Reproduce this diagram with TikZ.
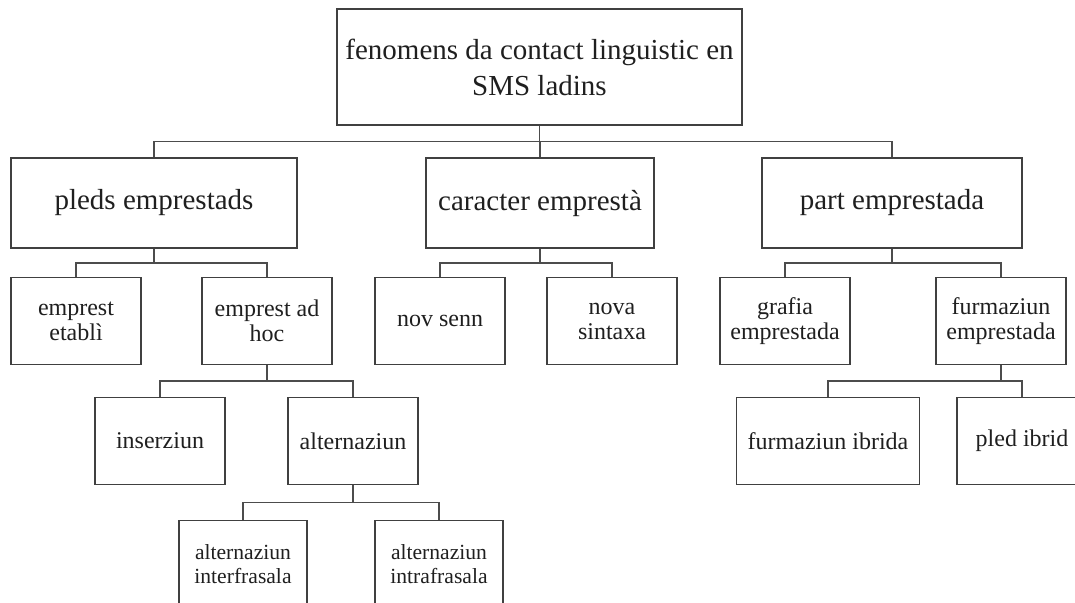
\documentclass[tikz,border=0pt]{standalone}
\usepackage{fontspec}
\setmainfont{Liberation Serif}
\usetikzlibrary{positioning,calc}

\begin{document}
\begin{tikzpicture}[x=0.5pt,y=-0.5pt,
  box/.style={draw=black!75,line width=0.95pt,align=center,inner sep=0pt,text=black!88},
  bigbox/.style={box,minimum height=45pt,font=\fontsize{14.5}{18}\selectfont},
  midbox/.style={box,minimum width=65pt,minimum height=43.5pt,font=\fontsize{12}{12.5}\selectfont},
  lowbox/.style={box,minimum width=64pt,minimum height=43.5pt,font=\fontsize{10.8}{11.8}\selectfont},
  link/.style={draw=black!70,line width=0.85pt}]
  \path[use as bounding box,clip] (0,0) rectangle (1075,602);

  % radisch
  \node[bigbox,minimum width=202.5pt,minimum height=58pt] (root) at (539.5,67)
    {fenomens da contact linguistic en\\SMS ladins};

  % prim livel
  \node[bigbox,minimum width=143pt] (pleds) at (154,203) {pleds emprestads};
  \node[bigbox,minimum width=114pt] (caracter) at (540,203) {caracter emprestà};
  \node[bigbox,minimum width=130pt] (part) at (892,203) {part emprestada};

  % segond livel
  \node[midbox] (etabli) at (76,321) {emprest\\etablì};
  \node[midbox] (adhoc) at (267,321) {emprest ad\\hoc};
  \node[midbox] (novsenn) at (440,321) {nov senn};
  \node[midbox] (sintaxa) at (612,321) {nova\\sintaxa};
  \node[midbox] (grafia) at (785,321) {grafia\\emprestada};
  \node[midbox] (furmemp) at (1001,321) {furmaziun\\emprestada};

  % terz livel
  \node[midbox] (inserziun) at (160,441) {inserziun};
  \node[midbox] (altern) at (353,441) {alternaziun};
  \node[midbox,minimum width=91.5pt] (furmibr) at (828,441) {furmaziun ibrida};
  \node[midbox] (pledibr) at (1022,441) {pled ibrid};

  % quart livel
  \node[lowbox] (inter) at (243,564) {alternaziun\\interfrasala};
  \node[lowbox] (intra) at (439,564) {alternaziun\\intrafrasala};

  % lioms
  \foreach \p/\c in {root/pleds,root/caracter,root/part,
                     pleds/etabli,pleds/adhoc,caracter/novsenn,caracter/sintaxa,
                     part/grafia,part/furmemp,adhoc/inserziun,adhoc/altern,
                     furmemp/furmibr,furmemp/pledibr,altern/inter,altern/intra}
    \draw[link] (\p.south) -- ($(\p.south)!.5!(\p.south|-\c.north)$) -| (\c.north);
\end{tikzpicture}
\end{document}
